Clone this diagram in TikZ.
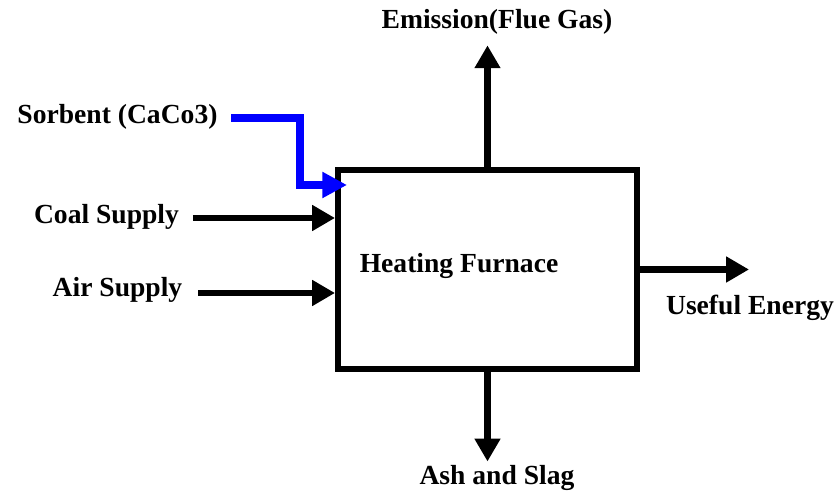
\documentclass[tikz,border=0pt]{standalone}
\usepackage{fontspec}
\setmainfont{Liberation Serif}
\usepackage{xcolor}
\usepackage{tikz}
\usetikzlibrary{arrows.meta, positioning, calc}
\definecolor{myblack}{RGB}{0,0,0}
\definecolor{myblue}{RGB}{0,0,255}
\tikzset{
  furnacebox/.style={rectangle, draw=myblack, fill=white,
    minimum width=5.98cm, minimum height=3.98cm, line width=3.4pt},
  lbl/.style={font=\fontsize{15.7}{18}\selectfont\bfseries, inner sep=2pt},
  flow/.style={-{Triangle[length=13pt, width=14pt]}, line width=3.6pt, color=myblack},
  sorbentflow/.style={-{Triangle[length=14pt, width=14pt]}, line width=4.5pt, color=myblue}
}
\begin{document}
\begin{tikzpicture}
  \useasboundingbox[fill=white] (0,0) rectangle (16.74, 9.82);
  % Blocks
  \node[furnacebox] (furnace) at (9.75, 4.43) {};
  \node[lbl] (furnacetxt) at (9.18, 4.5) {Heating Furnace};

  \node[lbl] (emission) at (9.94, 9.38) {Emission(Flue Gas)};
  \node[lbl] (ash) at (9.94, 0.26) {Ash and Slag};
  \node[lbl] (energy) at (15.0, 3.66) {Useful Energy};
  \node[lbl] (sorbent) at (2.35, 7.48) {Sorbent (CaCo3)};
  \node[lbl] (coal) at (2.13, 5.48) {Coal Supply};
  \node[lbl] (air) at (2.35, 4.02) {Air Supply};

  \coordinate (energyend) at (14.98, 4.43);
  \coordinate (bend) at (6.0, 6.12);
  \coordinate (sorbentin) at (6.94, 6.12);

  % Flows
  \draw[flow] (furnace.north) -- ([yshift=-0.14cm]furnace.north |- emission.south);
  \draw[flow] (furnace.south) -- (furnace.south |- ash.north);
  \draw[flow] (furnace.east) -- (energyend);
  \draw[flow] ([xshift=0.2cm, yshift=-0.02cm]coal.east) -- ([yshift=-0.02cm]coal.east -| furnace.west);
  \draw[flow] ([xshift=0.24cm, yshift=-0.06cm]air.east) -- ([yshift=-0.06cm]air.east -| furnace.west);
  \draw[sorbentflow] ([xshift=0.2cm, yshift=-0.02cm]sorbent.east) -| (bend) -- (sorbentin);
\end{tikzpicture}
\end{document}
